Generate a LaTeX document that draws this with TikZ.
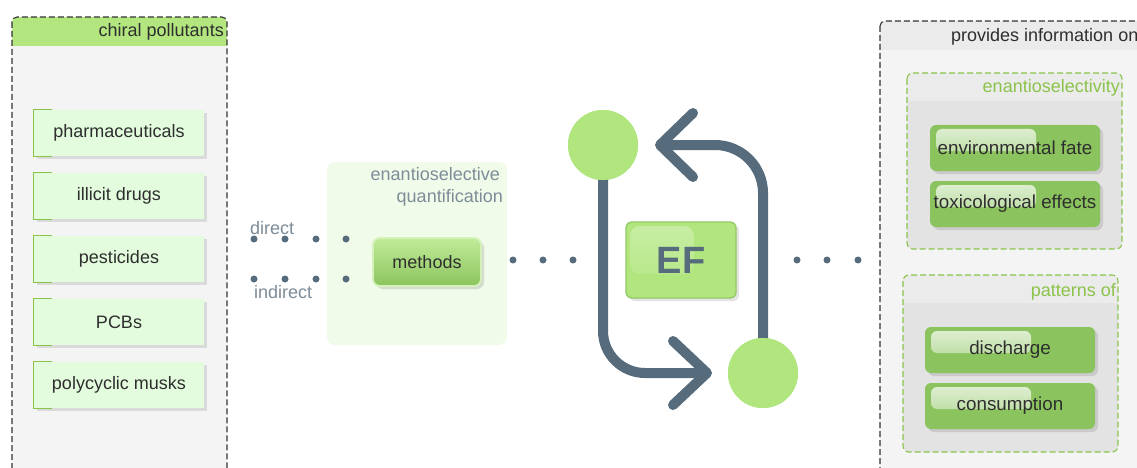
\documentclass[tikz,border=0pt]{standalone}
\usepackage{fontspec}
\setmainfont{Liberation Sans}
\usetikzlibrary{shadows,calc}
\definecolor{slate}{HTML}{566B7B}
\definecolor{lightgreen}{HTML}{B1E67F}
\definecolor{headgreen}{HTML}{B3E67F}
\definecolor{itemfill}{HTML}{E2FCDD}
\definecolor{bracket}{HTML}{8BC34A}
\definecolor{panelbg}{HTML}{F4F4F4}
\definecolor{greyhead}{HTML}{EBEBEB}
\definecolor{greybody}{HTML}{E3E3E3}
\definecolor{midpanel}{HTML}{F1FBEA}
\definecolor{ritem}{HTML}{8BC45E}
\definecolor{txt}{HTML}{2E2E2E}
\definecolor{labelgrey}{HTML}{7D8C98}
\definecolor{efborder}{HTML}{93C863}
\tikzset{
  every node/.style={font=\fontsize{18}{21}\selectfont, text=txt},
  litem/.style={fill=itemfill, minimum width=170pt, minimum height=46pt, inner sep=0pt,
    drop shadow={opacity=0.22, shadow xshift=3pt, shadow yshift=-3pt}},
  ritemstyle/.style={fill=ritem, rounded corners=6pt, minimum width=170pt, minimum height=46pt, inner sep=0pt,
    font=\fontsize{18.8}{21}\selectfont,
    drop shadow={opacity=0.25, shadow xshift=3pt, shadow yshift=-3pt},
    path picture={\shade[top color=white!75!ritem, bottom color=white!25!ritem, rounded corners=6pt]
      ($(path picture bounding box.north west)+(6,4)$) rectangle ++(100,22);}},
  dot/.style={circle, fill=slate, minimum size=7pt, inner sep=0pt},
  bigcircle/.style={circle, fill=lightgreen, minimum size=70pt, inner sep=0pt},
  cyc/.style={draw=slate, line width=10pt, line cap=round, line join=round},
  outerdash/.style={draw=black!80, dash pattern=on 6pt off 3pt, line width=1.1pt},
  greendash/.style={draw=bracket, dash pattern=on 6pt off 3pt, line width=1.1pt},
}
\begin{document}
\begin{tikzpicture}[x=1pt,y=-1pt]
\useasboundingbox (0,0) rectangle (1137,468);
\clip (0,0) rectangle (1137,468);
\fill[white] (0,0) rectangle (1137,468);

% ---------- left container
\begin{scope}
\clip[rounded corners=5pt] (12,17) rectangle (227,500);
\fill[panelbg] (12,17) rectangle (227,500);
\fill[headgreen] (12,17) rectangle (227,46);
\end{scope}
\draw[outerdash, rounded corners=5pt] (12,17) rectangle (227,500);
\node[anchor=east, inner sep=0pt] (lhead) at (224,32) {chiral pollutants};

\foreach \n/\t/\y in {a/pharmaceuticals/133, b/illicit drugs/196, c/pesticides/259, d/PCBs/322, e/polycyclic musks/385}{
  \node[litem] (\n) at (119,\y) {\t};
  \draw[bracket, line width=1.2pt] ($(\n.north west)+(18,0)$) -- (\n.north west) -- (\n.south west) -- ++(18,0);
}

% ---------- middle panel
\fill[midpanel, rounded corners=8pt] (327,162) rectangle (507,345);
\node[anchor=base east, inner sep=0pt, text=labelgrey] (q1) at (500,180) {enantioselective};
\node[anchor=base east, inner sep=0pt, text=labelgrey] (q2) at (503,202) {quantification};

\node[rounded corners=7pt, top color=lightgreen!80!white, bottom color=ritem,
  draw=white!45!lightgreen, line width=1.8pt, minimum width=108pt, minimum height=48pt, inner sep=0pt,
  drop shadow={opacity=0.25, shadow xshift=3pt, shadow yshift=-3pt}] (meth) at (427,262) {methods};

\foreach \i/\x in {1/254,2/285,3/316,4/346}{
  \node[dot] (d\i) at (\x,239) {};
  \node[dot] (i\i) at (\x,279) {};
}
\node[anchor=base west, inner sep=0pt, text=labelgrey] (dlab) at (250,234) {direct};
\node[anchor=base west, inner sep=0pt, text=labelgrey] (ilab) at (254,298) {indirect};

\foreach \i/\x in {1/513,2/543,3/573}{ \node[dot] (m\i) at (\x,260) {}; }
\foreach \i/\x in {1/797,2/827,3/858}{ \node[dot] (r\i) at (\x,260) {}; }

% ---------- cycle
\coordinate (tipA) at (707,373);
\coordinate (tipB) at (660,145);
\node[bigcircle] (c1) at (603,145) {};
\node[bigcircle] (c2) at (763,373) {};
\draw[cyc, line cap=butt, rounded corners=42pt] (c1.center) |- (tipA);
\draw[cyc, line cap=butt, rounded corners=48pt] (c2.center) |- (tipB);
\draw[cyc] (673,341) -- (tipA) -- (673,405);
\draw[cyc] (693,113) -- (tipB) -- (693,177);
\node[bigcircle] at (c1) {};
\node[bigcircle] at (c2) {};

\node[fill=lightgreen, draw=efborder, line width=1.3pt, rounded corners=6pt, minimum width=110pt, minimum height=76pt,
  inner sep=0pt, drop shadow={opacity=0.22, shadow xshift=3pt, shadow yshift=-3pt},
  path picture={\shade[top color=white!30!lightgreen, bottom color=lightgreen, rounded corners=10pt]
      ($(path picture bounding box.north west)+(4,4)$) rectangle ++(64,48);},
  font=\fontsize{38}{40}\selectfont\bfseries, text=slate] (ef) at (681,260) {EF};

% ---------- right container
\begin{scope}
\clip[rounded corners=5pt] (880,21) rectangle (1160,500);
\fill[panelbg] (880,21) rectangle (1160,500);
\fill[greyhead] (880,21) rectangle (1160,50);
\end{scope}
\draw[outerdash, rounded corners=5pt] (880,21) rectangle (1160,500);
\node[anchor=west, inner sep=0pt] (rhead) at (951,37) {provides information on};

% enantioselectivity box
\begin{scope}
\clip[rounded corners=6pt] (907,73) rectangle (1122,249);
\fill[greyhead] (907,73) rectangle (1122,101);
\fill[greybody] (907,101) rectangle (1122,249);
\end{scope}
\draw[greendash, rounded corners=6pt] (907,73) rectangle (1122,249);
\node[anchor=east, inner sep=0pt, text=bracket] (eslab) at (1120,88) {enantioselectivity};
\node[ritemstyle] (fate) at (1015,148) {environmental fate};
\node[ritemstyle] (tox) at (1015,204) {toxicological effects};

% patterns box
\begin{scope}
\clip[rounded corners=6pt] (903,275) rectangle (1118,452);
\fill[greyhead] (903,275) rectangle (1118,303);
\fill[greybody] (903,303) rectangle (1118,452);
\end{scope}
\draw[greendash, rounded corners=6pt] (903,275) rectangle (1118,452);
\node[anchor=east, inner sep=0pt, text=bracket] (patlab) at (1116,292) {patterns of};
\node[ritemstyle] (dis) at (1010,350) {discharge};
\node[ritemstyle] (con) at (1010,406) {consumption};
\end{tikzpicture}
\end{document}
